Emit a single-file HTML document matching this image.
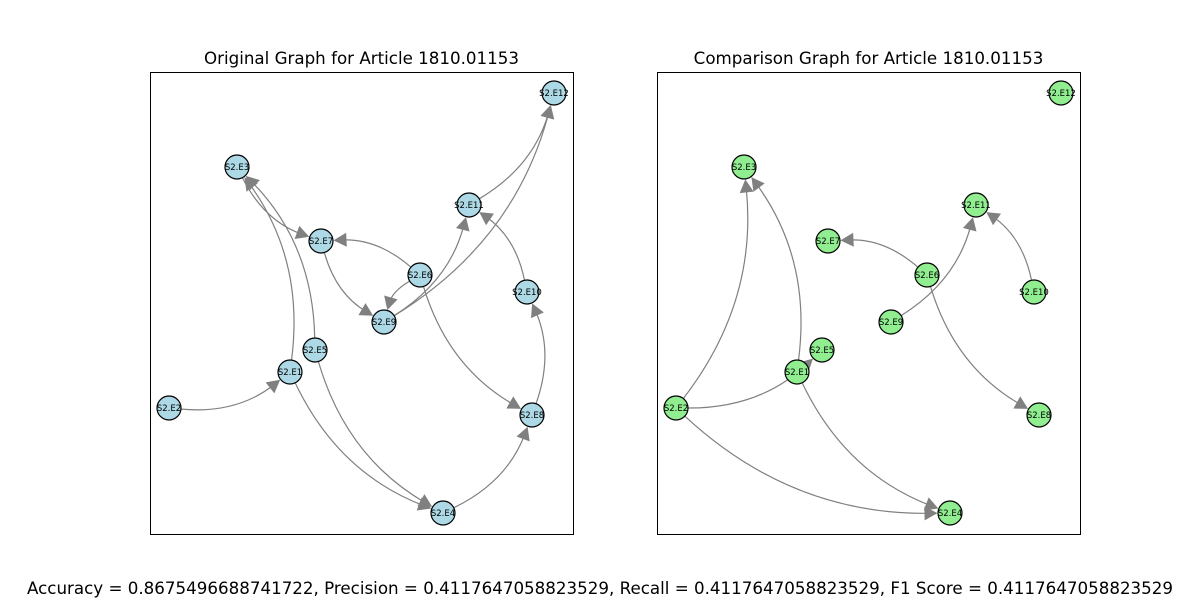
<!DOCTYPE html>
<html><head><meta charset="utf-8"><style>
body{margin:0;background:#fff;width:1200px;height:600px;overflow:hidden}
svg{font-family:"DejaVu Sans","Liberation Sans",sans-serif}
</style></head><body>
<svg id="s" width="1200" height="600">
<rect x="150.5" y="72.5" width="423" height="462" fill="none" stroke="#000"/>
<rect x="657.5" y="72.5" width="423" height="462" fill="none" stroke="#000"/>
<text x="361.5" y="64" font-size="16.7" text-anchor="middle">Original Graph for Article 1810.01153</text>
<text x="868.5" y="64" font-size="16.7" text-anchor="middle">Comparison Graph for Article 1810.01153</text>
<text x="600" y="594" font-size="16.7" text-anchor="middle">Accuracy = 0.8675496688741722, Precision = 0.4117647058823529, Recall = 0.4117647058823529, F1 Score = 0.4117647058823529</text>
<g id="g1"></g>
<g id="g2"></g>
</svg>
<script>
const nodeNames=["E12","E3","E11","E7","E6","E10","E9","E5","E1","E2","E8","E4"];
const nodeX=[554,237,469,321,420,527,384,315,290,169,532,443];
const nodeY=[93,167,205,241,275,292,322,350,372,408,415,513];
const edgesOriginal=[["E2","E1"],["E1","E3"],["E5","E3"],["E3","E7"],["E6","E7"],["E7","E9"],["E6","E9"],["E9","E11"],["E9","E12"],["E11","E12"],["E10","E11"],["E8","E10"],["E4","E8"],["E6","E8"],["E1","E4"],["E5","E4"]];
const edgesComparison=[["E2","E3"],["E1","E3"],["E2","E5"],["E6","E7"],["E9","E11"],["E10","E11"],["E6","E8"],["E1","E4"],["E2","E4"]];
const NS="http://www.w3.org/2000/svg";
function mk(t,a,p){const e=document.createElementNS(NS,t);for(const k in a)e.setAttribute(k,a[k]);p.appendChild(e);return e;}
function draw(gid,edges,dx,color){
  const g=document.getElementById(gid);
  const pos=n=>{const i=nodeNames.indexOf(n);return [nodeX[i]+dx,nodeY[i]];};
  const R=12.5;
  edges.forEach(([a,b])=>{
    const [x1,y1]=pos(a),[x2,y2]=pos(b);
    const ex=x2-x1,ey=y2-y1,f=0.2;
    const cx=(x1+x2)/2-f*ey, cy=(y1+y2)/2+f*ex;
    let sx=cx-x1,sy=cy-y1,sl=Math.hypot(sx,sy);
    const ax=x1+sx/sl*R, ay=y1+sy/sl*R;
    let tx=x2-cx,ty=y2-cy,tl=Math.hypot(tx,ty);tx/=tl;ty/=tl;
    const bx=x2-tx*R, by=y2-ty*R;
    const L=13,W=7;
    const p=mk('path',{d:`M${ax},${ay} Q${cx},${cy} ${bx-tx*L*0.6},${by-ty*L*0.6}`,fill:'none',stroke:'#808080','stroke-width':1.2},g);
    
    
    const bxx=bx-tx*L,byy=by-ty*L;
    const h=mk('polygon',{points:`${bx},${by} ${bxx-ty*W},${byy+tx*W} ${bxx+ty*W},${byy-tx*W}`,fill:'#808080'},g);
    
    
  });
  nodeNames.forEach(n=>{
    const [x,y]=pos(n);
    const c=mk('circle',{cx:x,cy:y,r:12,fill:color,stroke:'#000','stroke-width':1.2},g);
    
    
    const t=mk('text',{x:x,y:y+3,'font-size':8.5,'text-anchor':'middle'},g);
    t.textContent='S2.'+n;
    
    
  });
}
draw('g1',edgesOriginal,0,'#add8e6');
draw('g2',edgesComparison,507,'#90ee90');
</script>
</body></html>
